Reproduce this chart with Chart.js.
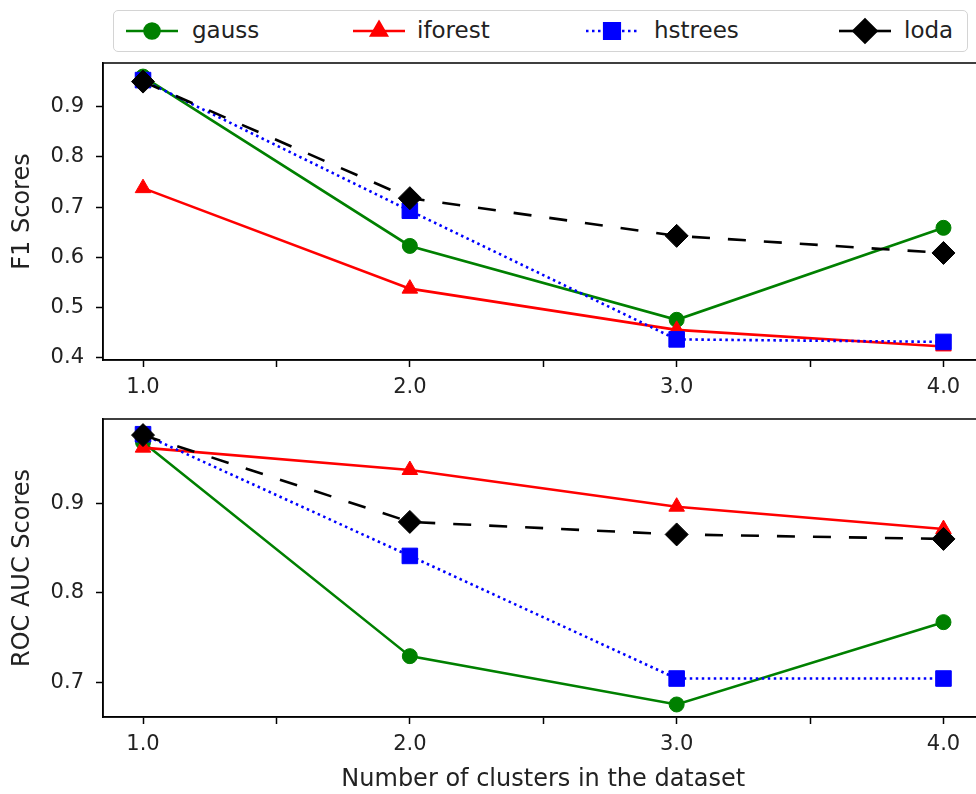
<!DOCTYPE html>
<html>
<head>
<meta charset="utf-8">
<script src="https://cdn.jsdelivr.net/npm/chart.js@4.4.1/dist/chart.umd.min.js"></script>
<style>
  html, body { margin: 0; padding: 0; background: #fff; overflow: hidden; width: 976px; height: 794px; }
  #c1 { position: absolute; left: 0; top: 0; }
  #c2 { position: absolute; left: 0; top: 400px; }
  #legend { position: absolute; left: 113px; top: 10px; width: 855px; height: 42px;
            border: 1.5px solid #d4d4d4; border-radius: 5px; background: #fff; box-sizing: border-box; }
  .item { position: absolute; top: 0; height: 41px; }
  .item canvas { position: absolute; top: 5px; }
  .item span { position: absolute; top: 6px; font-family: 'DejaVu Sans'; font-size: 23px; color: #222; white-space: nowrap; }
</style>
</head>
<body>
<canvas id="c1" width="996" height="400"></canvas>
<canvas id="c2" width="996" height="394"></canvas>
<div id="legend"></div>
<script>
// ---- data ----
const clusters = [1.0, 2.0, 3.0, 4.0];
const seriesNames = ['gauss', 'iforest', 'hstrees', 'loda'];
const f1Gauss   = [0.960, 0.623, 0.476, 0.659];
const f1Iforest = [0.738, 0.538, 0.456, 0.423];
const f1Hstrees = [0.953, 0.693, 0.437, 0.432];
const f1Loda    = [0.950, 0.718, 0.643, 0.609];
const aucGauss   = [0.968, 0.729, 0.675, 0.767];
const aucIforest = [0.962, 0.937, 0.896, 0.871];
const aucHstrees = [0.977, 0.841, 0.704, 0.704];
const aucLoda    = [0.976, 0.879, 0.865, 0.860];
const xTicks = [1.0, 1.5, 2.0, 2.5, 3.0, 3.5, 4.0];
const f1YTicks = [0.4, 0.5, 0.6, 0.7, 0.8, 0.9];
const aucYTicks = [0.7, 0.8, 0.9];

// ---- styles ----
const styles = [
  { color: '#008000', dash: [], point: 'circle', radius: 7.5, order: 4 },
  { color: '#ff0000', dash: [], point: 'triangle', radius: 9, order: 3 },
  { color: '#0000ff', dash: [2.5, 3.5], point: 'rect', radius: 11, order: 2 },
  { color: '#000000', dash: [18, 18], point: 'rectRot', radius: 11.5, order: 1 }
];

function makeDatasets(arrs) {
  return arrs.map((vals, i) => {
    const s = styles[i];
    return {
      label: seriesNames[i],
      data: clusters.map((x, j) => ({ x: x, y: vals[j] })),
      borderColor: s.color,
      backgroundColor: s.color,
      borderWidth: 2.6,
      borderDash: s.dash,
      borderCapStyle: 'butt',
      pointStyle: s.point,
      pointRadius: s.radius,
      pointHoverRadius: s.radius,
      pointBorderWidth: 1,
      pointBackgroundColor: s.color,
      pointBorderColor: s.color,
      tension: 0,
      clip: false,
      order: s.order
    };
  });
}

const boxPlugin = {
  id: 'box',
  afterDraw(chart) {
    const a = chart.chartArea, ctx = chart.ctx;
    ctx.save();
    ctx.strokeStyle = '#000';
    ctx.lineWidth = 1.5;
    ctx.strokeRect(a.left, a.top, a.right - a.left, a.bottom - a.top);
    ctx.restore();
  }
};

const tickFont = { family: 'DejaVu Sans', size: 21 };
const titleFont = { family: 'DejaVu Sans', size: 24 };

function makeChart(id, arrs, yTicks, ymin, ymax, yTitle, padTop, xHeight, showXTitle) {
  return new Chart(document.getElementById(id), {
    type: 'line',
    data: { datasets: makeDatasets(arrs) },
    plugins: [boxPlugin],
    options: {
      responsive: false,
      animation: false,
      events: [],
      layout: { padding: { top: padTop, right: 8, left: 0, bottom: 0 } },
      plugins: { legend: { display: false }, tooltip: { enabled: false } },
      scales: {
        x: {
          type: 'linear',
          min: 0.85, max: 4.15,
          afterBuildTicks: (sc) => { sc.ticks = xTicks.map(v => ({ value: v })); },
          afterFit: (sc) => { sc.height = xHeight; sc.paddingLeft = 0; sc.paddingRight = 0; },
          ticks: {
            autoSkip: false, maxRotation: 0, minRotation: 0,
            color: '#222', font: tickFont, padding: 8,
            callback: (v) => Number.isInteger(v) ? v.toFixed(1) : ''
          },
          grid: { drawOnChartArea: false, drawTicks: true, tickLength: 7, tickColor: '#000', tickWidth: 1.5 },
          border: { display: true, color: '#000', width: 1.5 },
          title: { display: showXTitle, text: 'Number of clusters in the dataset', color: '#222',
                   font: titleFont, padding: { top: 0, bottom: 0 } }
        },
        y: {
          type: 'linear',
          min: ymin, max: ymax,
          afterBuildTicks: (sc) => { sc.ticks = yTicks.map(v => ({ value: v })); },
          afterFit: (sc) => { sc.width = 103; sc.paddingTop = 0; sc.paddingBottom = 0; },
          ticks: { color: '#222', font: tickFont, padding: 12, callback: (v) => v.toFixed(1) },
          grid: { drawOnChartArea: false, drawTicks: true, tickLength: 7, tickColor: '#000', tickWidth: 1.5 },
          border: { display: true, color: '#000', width: 1.5 },
          title: { display: true, text: yTitle, color: '#222', font: titleFont, padding: { top: 8, bottom: 0 } }
        }
      }
    }
  });
}

makeChart('c1', [f1Gauss, f1Iforest, f1Hstrees, f1Loda], f1YTicks, 0.396, 0.987, 'F1 Scores', 63, 40, false);
makeChart('c2', [aucGauss, aucIforest, aucHstrees, aucLoda], aucYTicks, 0.661, 0.994, 'ROC AUC Scores', 19, 77, true);

// ---- legend ----
const legend = document.getElementById('legend');
const legendPos = [[10, 78], [237, 303], [470, 540], [723, 790]];
seriesNames.forEach((name, i) => {
  const s = styles[i];
  const item = document.createElement('div');
  item.className = 'item';
  item.style.left = legendPos[i][0] + 'px';
  const cv = document.createElement('canvas');
  cv.width = 56; cv.height = 30;
  cv.style.left = '0px';
  item.appendChild(cv);
  const sp = document.createElement('span');
  sp.textContent = name;
  sp.style.left = (legendPos[i][1] - legendPos[i][0]) + 'px';
  item.appendChild(sp);
  legend.appendChild(item);
  const ctx = cv.getContext('2d');
  ctx.strokeStyle = s.color;
  ctx.lineWidth = 2.6;
  ctx.setLineDash(s.dash);
  ctx.beginPath(); ctx.moveTo(2, 15); ctx.lineTo(54, 15); ctx.stroke();
  ctx.setLineDash([]);
  ctx.fillStyle = s.color;
  Chart.helpers.drawPoint(ctx, { pointStyle: s.point, radius: s.radius, borderWidth: 1 }, 28, 15);
  ctx.fill();
});
</script>
</body>
</html>
